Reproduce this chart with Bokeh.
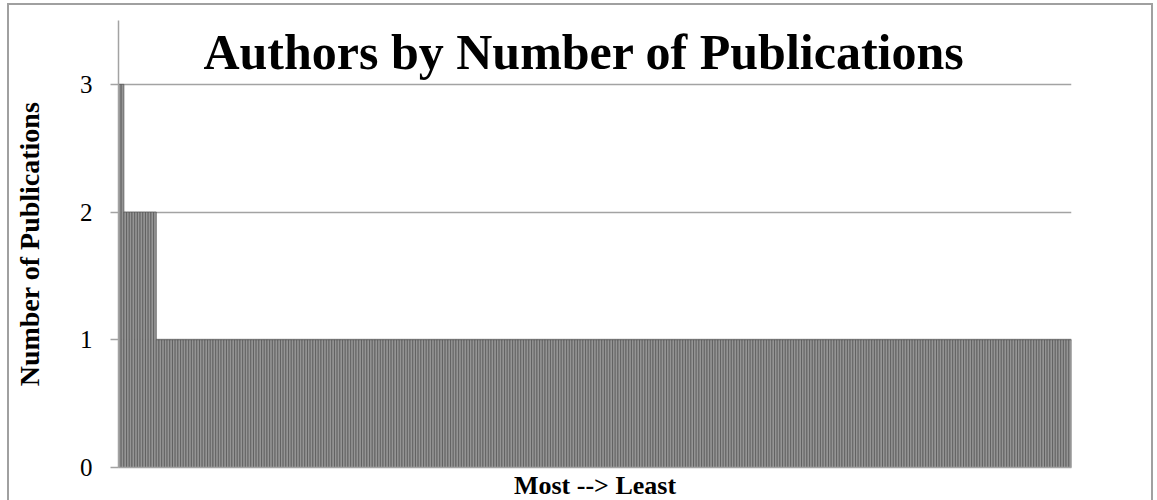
from bokeh.plotting import figure
from bokeh.models import Range1d, FixedTicker, Label, ColumnDataSource
from bokeh.embed import file_html
from bokeh.resources import INLINE

# Publication counts, most to least, and how many authors share each count
pub_levels = [3, 2, 1]
author_counts = [2, 12, 339]

pubs = []
for level, n in zip(pub_levels, author_counts):
    pubs.extend([level] * n)
rank = list(range(1, len(pubs) + 1))

y_ticks = [0, 1, 2, 3]
title_text = "Authors by Number of Publications"
x_title = "Most --> Least"
y_title = "Number of Publications"

SERIF = "Liberation Serif"
GRID = "#a3a3a3"

src = ColumnDataSource(dict(rank=rank, pubs=pubs))

p = figure(
    width=1146, height=502,
    margin=(3, 0, 0, 7),
    output_backend="svg", toolbar_location=None,
    x_range=Range1d(0.5, len(pubs) + 0.5),
    y_range=Range1d(0, 3.5),
    min_border_left=109, min_border_right=84,
    min_border_top=15, min_border_bottom=40,
)
# chart border; the bottom edge runs past the page
p.styles = {"border": "2px solid #a0a0a0", "border-bottom": "none"}
p.outline_line_color = None
p.background_fill_color = "white"
p.border_fill_color = "white"

p.vbar(x="rank", top="pubs", width=1.0, source=src,
       fill_color="#959595", line_color="#525252", line_width=0.7)

# axes
p.xaxis.ticker = FixedTicker(ticks=[])
p.xaxis.axis_line_color = GRID
p.xaxis.axis_line_width = 1.5
p.xaxis.major_tick_line_color = None
p.xaxis.minor_tick_line_color = None
p.xaxis.axis_label = x_title
p.xaxis.axis_label_text_font = SERIF
p.xaxis.axis_label_text_font_style = "bold"
p.xaxis.axis_label_text_font_size = "26px"
p.xaxis.axis_label_text_color = "black"
p.xaxis.axis_label_standoff = 3

p.yaxis.ticker = FixedTicker(ticks=y_ticks)
p.yaxis.axis_line_color = GRID
p.yaxis.axis_line_width = 1.5
p.yaxis.major_tick_line_color = GRID
p.yaxis.major_tick_line_width = 1.5
p.yaxis.major_tick_out = 8
p.yaxis.major_tick_in = 0
p.yaxis.minor_tick_line_color = None
p.yaxis.major_label_text_font = SERIF
p.yaxis.major_label_text_font_size = "25px"
p.yaxis.major_label_text_color = "black"
p.yaxis.major_label_standoff = 18
p.yaxis.axis_label = y_title
p.yaxis.axis_label_text_font = SERIF
p.yaxis.axis_label_text_font_style = "bold"
p.yaxis.axis_label_text_font_size = "28px"
p.yaxis.axis_label_text_color = "black"
p.yaxis.axis_label_standoff = 32

p.xgrid.grid_line_color = None
p.ygrid.ticker = FixedTicker(ticks=y_ticks)
p.ygrid.grid_line_color = GRID
p.ygrid.grid_line_width = 1.5

# chart title sits inside the plotting area
p.add_layout(Label(
    x=(len(pubs) + 1) / 2, y=3.25, text=title_text,
    text_align="center", text_baseline="alphabetic", x_offset=-11,
    text_font=SERIF, text_font_style="bold", text_font_size="50px",
    text_color="black",
))

html = file_html(p, INLINE)
html = html.replace("<head>", "<head><style>html, body { overflow: hidden; margin: 0; }</style>", 1)
open("out.html", "w").write(html)
